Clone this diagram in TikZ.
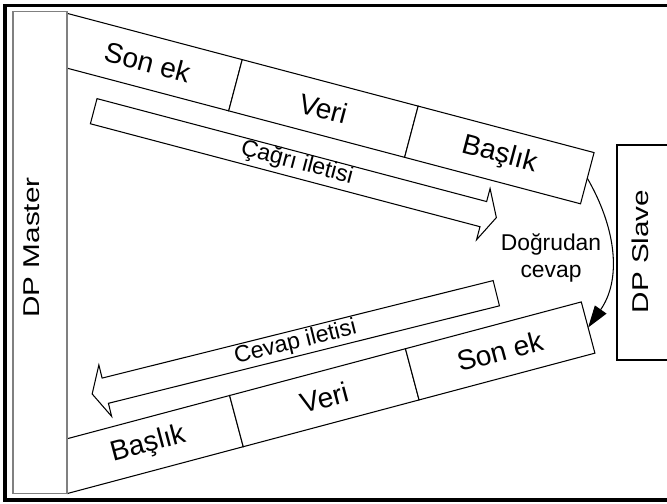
\documentclass[tikz,border=0pt]{standalone}
\usepackage{fontspec}
\setmainfont{Liberation Sans}
\usepackage{tikz}
\usetikzlibrary{arrows.meta,positioning}

\begin{document}
\begin{tikzpicture}[x=0.02cm,y=-0.02cm,line width=0.6pt,
                    blokok/.pic={\draw[fill=white] (0,-13) -- (403,-13) -- (403,-26.5)
                      -- (416.5,0) -- (403,26.5) -- (403,13) -- (0,13) -- cycle;}]
  \tikzstyle{hucre}=[draw,fill=white,minimum width=3.64cm,minimum height=1.06cm,
                     inner sep=0pt,outer sep=0pt,font=\fontsize{16}{19}\selectfont]
  \tikzstyle{ust}=[hucre,rotate=-14.8]
  \tikzstyle{alt}=[hucre,rotate=14.9]
  \tikzstyle{yazi}=[inner sep=0pt,font=\fontsize{13.2}{15.5}\selectfont]
  \tikzstyle{istasyon}=[inner sep=0pt,font=\fontsize{13}{15}\selectfont,rotate=90]

  \useasboundingbox (0,0) rectangle (667,504);
  \clip (0,0) rectangle (667,504);

  % giden ve gelen telgraflar
  \node[ust] (SE1) at (147.5,62) {Son ek};
  \node[ust,right=0pt of SE1] (V1) {Veri};
  \node[ust,right=0pt of V1] (B1) {Başlık};

  \node[alt] (B2) at (148.5,444.5) {Başlık};
  \node[alt,right=0pt of B2] (V2) {Veri};
  \node[alt,right=0pt of V2] (SE2) {Son ek};

  % istasyonlar
  \node[draw=gray,fill=white,minimum width=1.08cm,minimum height=9.66cm] (M) at (40,252.5) {};
  \node[istasyon] at (32,247.5) {\scalebox{1.3}[1]{DP Master}};
  \node[draw,minimum width=1.66cm,minimum height=4.3cm] (S) at (658.5,252.5) {};
  \node[istasyon] at (640,251.5) {\scalebox{1.3}[1]{DP Slave}};

  % iletiler
  \pic[rotate=-14.8] at (93.7,111.2) {blokok};
  \node[yazi,rotate=-14.8] (C) at (297,163) {Çağrı iletisi};
  \pic[rotate=194] at (496.3,293.2) {blokok};
  \node[yazi,rotate=14] (R) at (295.5,343) {Cevap iletisi};

  \draw[-{Triangle[length=4.4mm,width=2.8mm]}] (B1.east) to[out=-60,in=55] (SE2.east);
  \node[yazi,align=center,font=\fontsize{13}{15.4}\selectfont] (D) at (551,257.5) {Doğrudan\\cevap};

  \draw[line width=2pt] (5,5.5) rectangle (720,500);
\end{tikzpicture}
\end{document}
